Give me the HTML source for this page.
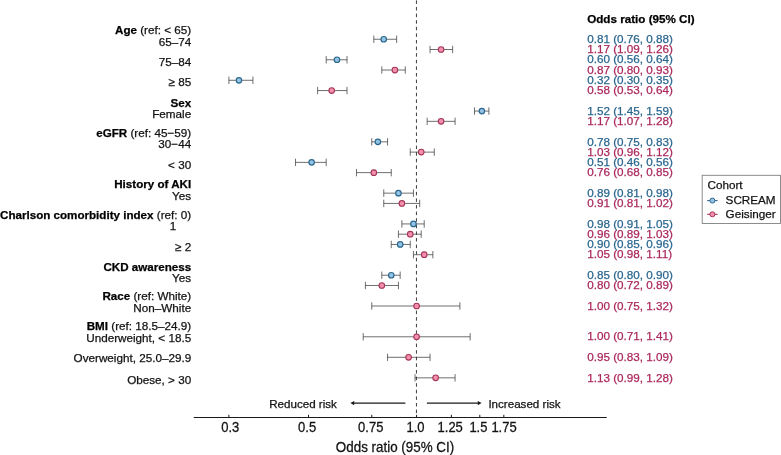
<!DOCTYPE html>
<html lang="en"><head><meta charset="utf-8"><title>Forest plot</title>
<style>html,body{margin:0;padding:0;background:#fff}svg{display:block}text{stroke-width:0.25px;paint-order:stroke}</style></head>
<body>
<svg width="781" height="455" viewBox="0 0 781 455" font-family="'Liberation Sans', Arial, Helvetica, sans-serif">
<rect width="781" height="455" fill="#fff"/>
<line x1="416.45" y1="0.4" x2="416.45" y2="417" stroke="#1a1a1a" stroke-width="0.85" stroke-dasharray="3.5 3.1"/>
<line x1="193.8" y1="417.5" x2="606.7" y2="417.5" stroke="#1a1a1a" stroke-width="1"/>
<line x1="228.90" y1="414.8" x2="228.90" y2="417.5" stroke="#1a1a1a" stroke-width="1"/>
<text transform="translate(230.20 431.9) scale(1 1.07)" font-size="13" text-anchor="middle" fill="#111" stroke="#111">0.3</text>
<line x1="308.54" y1="414.8" x2="308.54" y2="417.5" stroke="#1a1a1a" stroke-width="1"/>
<text transform="translate(307.14 431.9) scale(1 1.07)" font-size="13" text-anchor="middle" fill="#111" stroke="#111">0.5</text>
<line x1="371.75" y1="414.8" x2="371.75" y2="417.5" stroke="#1a1a1a" stroke-width="1"/>
<text transform="translate(370.75 431.9) scale(1 1.07)" font-size="13" text-anchor="middle" fill="#111" stroke="#111">0.75</text>
<line x1="416.60" y1="414.8" x2="416.60" y2="417.5" stroke="#1a1a1a" stroke-width="1"/>
<text transform="translate(415.50 431.9) scale(1 1.07)" font-size="13" text-anchor="middle" fill="#111" stroke="#111">1.0</text>
<line x1="451.39" y1="414.8" x2="451.39" y2="417.5" stroke="#1a1a1a" stroke-width="1"/>
<text transform="translate(450.19 431.9) scale(1 1.07)" font-size="13" text-anchor="middle" fill="#111" stroke="#111">1.25</text>
<line x1="479.81" y1="414.8" x2="479.81" y2="417.5" stroke="#1a1a1a" stroke-width="1"/>
<text transform="translate(478.41 431.9) scale(1 1.07)" font-size="13" text-anchor="middle" fill="#111" stroke="#111">1.5</text>
<line x1="503.84" y1="414.8" x2="503.84" y2="417.5" stroke="#1a1a1a" stroke-width="1"/>
<text transform="translate(504.04 431.9) scale(1 1.07)" font-size="13" text-anchor="middle" fill="#111" stroke="#111">1.75</text>
<text transform="translate(395 452) scale(1 1.04)" font-size="13.4" text-anchor="middle" fill="#111" stroke="#111">Odds ratio (95% CI)</text>
<line x1="405.4" y1="403.1" x2="353" y2="403.1" stroke="#1a1a1a" stroke-width="1.05"/>
<polygon points="350.4,403.1 354.2,401.0 354.2,405.20000000000005" fill="#1a1a1a"/>
<line x1="426.9" y1="403.1" x2="479" y2="403.1" stroke="#1a1a1a" stroke-width="1.05"/>
<polygon points="481.6,403.1 477.8,401.0 477.8,405.20000000000005" fill="#1a1a1a"/>
<text x="336.9" y="407.7" font-size="11.6" text-anchor="end" fill="#111" stroke="#111">Reduced risk</text>
<text x="488.4" y="407.7" font-size="11.6" fill="#111" stroke="#111">Increased risk</text>
<g stroke="#363636" stroke-width="0.72"><line x1="373.82" y1="39.25" x2="396.67" y2="39.25"/><line x1="373.82" y1="35.55" x2="373.82" y2="42.95"/><line x1="396.67" y1="35.55" x2="396.67" y2="42.95"/></g>
<circle cx="383.75" cy="39.25" r="2.75" fill="#93c4e6" stroke="#2e688e" stroke-width="1.2"/>
<text x="587.2" y="42.95" font-size="11.7" fill="#2a668f" stroke="#2a668f">0.81 (0.76, 0.88)</text>
<g stroke="#363636" stroke-width="0.72"><line x1="430.04" y1="49.51" x2="452.63" y2="49.51"/><line x1="430.04" y1="45.81" x2="430.04" y2="53.21"/><line x1="452.63" y1="45.81" x2="452.63" y2="53.21"/></g>
<circle cx="441.08" cy="49.51" r="2.8" fill="#f48fb0" stroke="#a23654" stroke-width="1.1"/>
<text x="587.2" y="53.21" font-size="11.7" fill="#aa285c" stroke="#aa285c">1.17 (1.09, 1.26)</text>
<g stroke="#363636" stroke-width="0.72"><line x1="326.21" y1="59.77" x2="347.02" y2="59.77"/><line x1="326.21" y1="56.07" x2="326.21" y2="63.47"/><line x1="347.02" y1="56.07" x2="347.02" y2="63.47"/></g>
<circle cx="336.96" cy="59.77" r="2.75" fill="#93c4e6" stroke="#2e688e" stroke-width="1.2"/>
<text x="587.2" y="63.47" font-size="11.7" fill="#2a668f" stroke="#2a668f">0.60 (0.56, 0.64)</text>
<g stroke="#363636" stroke-width="0.72"><line x1="381.81" y1="70.03" x2="405.29" y2="70.03"/><line x1="381.81" y1="66.33" x2="381.81" y2="73.73"/><line x1="405.29" y1="66.33" x2="405.29" y2="73.73"/></g>
<circle cx="394.89" cy="70.03" r="2.8" fill="#f48fb0" stroke="#a23654" stroke-width="1.1"/>
<text x="587.2" y="73.73" font-size="11.7" fill="#aa285c" stroke="#aa285c">0.87 (0.80, 0.93)</text>
<g stroke="#363636" stroke-width="0.72"><line x1="228.90" y1="80.29" x2="252.93" y2="80.29"/><line x1="228.90" y1="76.59" x2="228.90" y2="83.99"/><line x1="252.93" y1="76.59" x2="252.93" y2="83.99"/></g>
<circle cx="238.96" cy="80.29" r="2.75" fill="#93c4e6" stroke="#2e688e" stroke-width="1.2"/>
<text x="587.2" y="83.99" font-size="11.7" fill="#2a668f" stroke="#2a668f">0.32 (0.30, 0.35)</text>
<g stroke="#363636" stroke-width="0.72"><line x1="317.62" y1="90.55" x2="347.02" y2="90.55"/><line x1="317.62" y1="86.85" x2="317.62" y2="94.25"/><line x1="347.02" y1="86.85" x2="347.02" y2="94.25"/></g>
<circle cx="331.68" cy="90.55" r="2.8" fill="#f48fb0" stroke="#a23654" stroke-width="1.1"/>
<text x="587.2" y="94.25" font-size="11.7" fill="#aa285c" stroke="#aa285c">0.58 (0.53, 0.64)</text>
<g stroke="#363636" stroke-width="0.72"><line x1="474.53" y1="111.07" x2="488.90" y2="111.07"/><line x1="474.53" y1="107.37" x2="474.53" y2="114.77"/><line x1="488.90" y1="107.37" x2="488.90" y2="114.77"/></g>
<circle cx="481.88" cy="111.07" r="2.75" fill="#93c4e6" stroke="#2e688e" stroke-width="1.2"/>
<text x="587.2" y="114.77" font-size="11.7" fill="#2a668f" stroke="#2a668f">1.52 (1.45, 1.59)</text>
<g stroke="#363636" stroke-width="0.72"><line x1="427.15" y1="121.33" x2="455.09" y2="121.33"/><line x1="427.15" y1="117.63" x2="427.15" y2="125.03"/><line x1="455.09" y1="117.63" x2="455.09" y2="125.03"/></g>
<circle cx="441.08" cy="121.33" r="2.8" fill="#f48fb0" stroke="#a23654" stroke-width="1.1"/>
<text x="587.2" y="125.03" font-size="11.7" fill="#aa285c" stroke="#aa285c">1.17 (1.07, 1.28)</text>
<g stroke="#363636" stroke-width="0.72"><line x1="371.75" y1="141.85" x2="387.55" y2="141.85"/><line x1="371.75" y1="138.15" x2="371.75" y2="145.55"/><line x1="387.55" y1="138.15" x2="387.55" y2="145.55"/></g>
<circle cx="377.86" cy="141.85" r="2.75" fill="#93c4e6" stroke="#2e688e" stroke-width="1.2"/>
<text x="587.2" y="145.55" font-size="11.7" fill="#2a668f" stroke="#2a668f">0.78 (0.75, 0.83)</text>
<g stroke="#363636" stroke-width="0.72"><line x1="410.24" y1="152.11" x2="434.27" y2="152.11"/><line x1="410.24" y1="148.41" x2="410.24" y2="155.81"/><line x1="434.27" y1="148.41" x2="434.27" y2="155.81"/></g>
<circle cx="421.21" cy="152.11" r="2.8" fill="#f48fb0" stroke="#a23654" stroke-width="1.1"/>
<text x="587.2" y="155.81" font-size="11.7" fill="#aa285c" stroke="#aa285c">1.03 (0.96, 1.12)</text>
<g stroke="#363636" stroke-width="0.72"><line x1="295.54" y1="162.37" x2="326.21" y2="162.37"/><line x1="295.54" y1="158.67" x2="295.54" y2="166.07"/><line x1="326.21" y1="158.67" x2="326.21" y2="166.07"/></g>
<circle cx="311.63" cy="162.37" r="2.75" fill="#93c4e6" stroke="#2e688e" stroke-width="1.2"/>
<text x="587.2" y="166.07" font-size="11.7" fill="#2a668f" stroke="#2a668f">0.51 (0.46, 0.56)</text>
<g stroke="#363636" stroke-width="0.72"><line x1="356.48" y1="172.63" x2="391.26" y2="172.63"/><line x1="356.48" y1="168.93" x2="356.48" y2="176.33"/><line x1="391.26" y1="168.93" x2="391.26" y2="176.33"/></g>
<circle cx="373.82" cy="172.63" r="2.8" fill="#f48fb0" stroke="#a23654" stroke-width="1.1"/>
<text x="587.2" y="176.33" font-size="11.7" fill="#aa285c" stroke="#aa285c">0.76 (0.68, 0.85)</text>
<g stroke="#363636" stroke-width="0.72"><line x1="383.75" y1="193.15" x2="413.45" y2="193.15"/><line x1="383.75" y1="189.45" x2="383.75" y2="196.85"/><line x1="413.45" y1="189.45" x2="413.45" y2="196.85"/></g>
<circle cx="398.43" cy="193.15" r="2.75" fill="#93c4e6" stroke="#2e688e" stroke-width="1.2"/>
<text x="587.2" y="196.85" font-size="11.7" fill="#2a668f" stroke="#2a668f">0.89 (0.81, 0.98)</text>
<g stroke="#363636" stroke-width="0.72"><line x1="383.75" y1="203.41" x2="419.69" y2="203.41"/><line x1="383.75" y1="199.71" x2="383.75" y2="207.11"/><line x1="419.69" y1="199.71" x2="419.69" y2="207.11"/></g>
<circle cx="401.90" cy="203.41" r="2.8" fill="#f48fb0" stroke="#a23654" stroke-width="1.1"/>
<text x="587.2" y="207.11" font-size="11.7" fill="#aa285c" stroke="#aa285c">0.91 (0.81, 1.02)</text>
<g stroke="#363636" stroke-width="0.72"><line x1="401.90" y1="223.93" x2="424.21" y2="223.93"/><line x1="401.90" y1="220.23" x2="401.90" y2="227.63"/><line x1="424.21" y1="220.23" x2="424.21" y2="227.63"/></g>
<circle cx="413.45" cy="223.93" r="2.75" fill="#93c4e6" stroke="#2e688e" stroke-width="1.2"/>
<text x="587.2" y="227.63" font-size="11.7" fill="#2a668f" stroke="#2a668f">0.98 (0.91, 1.05)</text>
<g stroke="#363636" stroke-width="0.72"><line x1="398.43" y1="234.19" x2="421.21" y2="234.19"/><line x1="398.43" y1="230.49" x2="398.43" y2="237.89"/><line x1="421.21" y1="230.49" x2="421.21" y2="237.89"/></g>
<circle cx="410.24" cy="234.19" r="2.8" fill="#f48fb0" stroke="#a23654" stroke-width="1.1"/>
<text x="587.2" y="237.89" font-size="11.7" fill="#aa285c" stroke="#aa285c">0.96 (0.89, 1.03)</text>
<g stroke="#363636" stroke-width="0.72"><line x1="391.26" y1="244.45" x2="410.24" y2="244.45"/><line x1="391.26" y1="240.75" x2="391.26" y2="248.15"/><line x1="410.24" y1="240.75" x2="410.24" y2="248.15"/></g>
<circle cx="400.17" cy="244.45" r="2.75" fill="#93c4e6" stroke="#2e688e" stroke-width="1.2"/>
<text x="587.2" y="248.15" font-size="11.7" fill="#2a668f" stroke="#2a668f">0.90 (0.85, 0.96)</text>
<g stroke="#363636" stroke-width="0.72"><line x1="413.45" y1="254.71" x2="432.87" y2="254.71"/><line x1="413.45" y1="251.01" x2="413.45" y2="258.41"/><line x1="432.87" y1="251.01" x2="432.87" y2="258.41"/></g>
<circle cx="424.21" cy="254.71" r="2.8" fill="#f48fb0" stroke="#a23654" stroke-width="1.1"/>
<text x="587.2" y="258.41" font-size="11.7" fill="#aa285c" stroke="#aa285c">1.05 (0.98, 1.11)</text>
<g stroke="#363636" stroke-width="0.72"><line x1="381.81" y1="275.23" x2="400.17" y2="275.23"/><line x1="381.81" y1="271.53" x2="381.81" y2="278.93"/><line x1="400.17" y1="271.53" x2="400.17" y2="278.93"/></g>
<circle cx="391.26" cy="275.23" r="2.75" fill="#93c4e6" stroke="#2e688e" stroke-width="1.2"/>
<text x="587.2" y="278.93" font-size="11.7" fill="#2a668f" stroke="#2a668f">0.85 (0.80, 0.90)</text>
<g stroke="#363636" stroke-width="0.72"><line x1="365.39" y1="285.49" x2="398.43" y2="285.49"/><line x1="365.39" y1="281.79" x2="365.39" y2="289.19"/><line x1="398.43" y1="281.79" x2="398.43" y2="289.19"/></g>
<circle cx="381.81" cy="285.49" r="2.8" fill="#f48fb0" stroke="#a23654" stroke-width="1.1"/>
<text x="587.2" y="289.19" font-size="11.7" fill="#aa285c" stroke="#aa285c">0.80 (0.72, 0.89)</text>
<g stroke="#363636" stroke-width="0.72"><line x1="371.75" y1="306.01" x2="459.88" y2="306.01"/><line x1="371.75" y1="302.31" x2="371.75" y2="309.71"/><line x1="459.88" y1="302.31" x2="459.88" y2="309.71"/></g>
<circle cx="416.60" cy="306.01" r="2.8" fill="#f48fb0" stroke="#a23654" stroke-width="1.1"/>
<text x="587.2" y="309.71" font-size="11.7" fill="#aa285c" stroke="#aa285c">1.00 (0.75, 1.32)</text>
<g stroke="#363636" stroke-width="0.72"><line x1="363.21" y1="336.79" x2="470.17" y2="336.79"/><line x1="363.21" y1="333.09" x2="363.21" y2="340.49"/><line x1="470.17" y1="333.09" x2="470.17" y2="340.49"/></g>
<circle cx="416.60" cy="336.79" r="2.8" fill="#f48fb0" stroke="#a23654" stroke-width="1.1"/>
<text x="587.2" y="340.49" font-size="11.7" fill="#aa285c" stroke="#aa285c">1.00 (0.71, 1.41)</text>
<g stroke="#363636" stroke-width="0.72"><line x1="387.55" y1="357.31" x2="430.04" y2="357.31"/><line x1="387.55" y1="353.61" x2="387.55" y2="361.01"/><line x1="430.04" y1="353.61" x2="430.04" y2="361.01"/></g>
<circle cx="408.60" cy="357.31" r="2.8" fill="#f48fb0" stroke="#a23654" stroke-width="1.1"/>
<text x="587.2" y="361.01" font-size="11.7" fill="#aa285c" stroke="#aa285c">0.95 (0.83, 1.09)</text>
<g stroke="#363636" stroke-width="0.72"><line x1="415.03" y1="377.83" x2="455.09" y2="377.83"/><line x1="415.03" y1="374.13" x2="415.03" y2="381.53"/><line x1="455.09" y1="374.13" x2="455.09" y2="381.53"/></g>
<circle cx="435.65" cy="377.83" r="2.8" fill="#f48fb0" stroke="#a23654" stroke-width="1.1"/>
<text x="587.2" y="381.53" font-size="11.7" fill="#aa285c" stroke="#aa285c">1.13 (0.99, 1.28)</text>
<text x="587.2" y="23.0" font-size="11.65" font-weight="bold" fill="#000" stroke="#000">Odds ratio (95% CI)</text>
<text x="191.2" y="34.30" font-size="11.7" text-anchor="end" fill="#111" stroke="#111"><tspan font-weight="bold" font-size="11.62" fill="#000" stroke="#000">Age</tspan> (ref: &lt; 65)</text>
<text x="191.2" y="46.05" font-size="11.7" text-anchor="end" fill="#111" stroke="#111">65–74</text>
<text x="191.2" y="65.88" font-size="11.7" text-anchor="end" fill="#111" stroke="#111">75–84</text>
<text x="191.2" y="85.76" font-size="11.7" text-anchor="end" fill="#111" stroke="#111">≥ 85</text>
<text x="191.2" y="106.68" font-size="11.7" text-anchor="end" fill="#111" stroke="#111"><tspan font-weight="bold" font-size="11.62" fill="#000" stroke="#000">Sex</tspan></text>
<text x="191.2" y="117.68" font-size="11.7" text-anchor="end" fill="#111" stroke="#111">Female</text>
<text x="191.2" y="137.05" font-size="11.7" text-anchor="end" fill="#111" stroke="#111"><tspan font-weight="bold" font-size="11.62" fill="#000" stroke="#000">eGFR</tspan> (ref: 45−59)</text>
<text x="191.2" y="148.15" font-size="11.7" text-anchor="end" fill="#111" stroke="#111">30−44</text>
<text x="191.2" y="168.88" font-size="11.7" text-anchor="end" fill="#111" stroke="#111">&lt; 30</text>
<text x="191.2" y="187.50" font-size="11.7" text-anchor="end" fill="#111" stroke="#111"><tspan font-weight="bold" font-size="11.62" fill="#000" stroke="#000">History of AKI</tspan></text>
<text x="191.2" y="199.75" font-size="11.7" text-anchor="end" fill="#111" stroke="#111">Yes</text>
<text x="191.2" y="218.72" font-size="11.7" text-anchor="end" fill="#111" stroke="#111"><tspan font-weight="bold" font-size="11.62" fill="#000" stroke="#000">Charlson comorbidity index</tspan> (ref: 0)</text>
<text x="176.2" y="230.47" font-size="11.7" text-anchor="end" fill="#111" stroke="#111">1</text>
<text x="191.2" y="250.95" font-size="11.7" text-anchor="end" fill="#111" stroke="#111">≥ 2</text>
<text x="191.2" y="271.32" font-size="11.7" text-anchor="end" fill="#111" stroke="#111"><tspan font-weight="bold" font-size="11.62" fill="#000" stroke="#000">CKD awareness</tspan></text>
<text x="191.2" y="282.02" font-size="11.7" text-anchor="end" fill="#111" stroke="#111">Yes</text>
<text x="191.2" y="299.54" font-size="11.7" text-anchor="end" fill="#111" stroke="#111"><tspan font-weight="bold" font-size="11.62" fill="#000" stroke="#000">Race</tspan> (ref: White)</text>
<text x="191.2" y="312.14" font-size="11.7" text-anchor="end" fill="#111" stroke="#111">Non–White</text>
<text x="191.2" y="330.46" font-size="11.7" text-anchor="end" fill="#111" stroke="#111"><tspan font-weight="bold" font-size="11.62" fill="#000" stroke="#000">BMI</tspan> (ref: 18.5–24.9)</text>
<text x="191.2" y="341.86" font-size="11.7" text-anchor="end" fill="#111" stroke="#111">Underweight, &lt; 18.5</text>
<text x="191.2" y="361.94" font-size="11.7" text-anchor="end" fill="#111" stroke="#111">Overweight, 25.0–29.9</text>
<text x="191.2" y="383.67" font-size="11.7" text-anchor="end" fill="#111" stroke="#111">Obese, &gt; 30</text>
<rect x="702.2" y="175.3" width="78.3" height="48.2" fill="#fff" stroke="#808080" stroke-width="0.9"/>
<text x="707.5" y="189.2" font-size="11.7" fill="#111" stroke="#111">Cohort</text>
<line x1="707.2" y1="200.6" x2="717.6" y2="200.6" stroke="#2e688e" stroke-width="1.1"/>
<circle cx="712.4" cy="200.6" r="2.5" fill="#93c4e6" stroke="#2e688e" stroke-width="1"/>
<text x="725.6" y="204.00" font-size="11.7" fill="#111" stroke="#111">SCREAM</text>
<line x1="707.2" y1="214.3" x2="717.6" y2="214.3" stroke="#a23654" stroke-width="1.1"/>
<circle cx="712.4" cy="214.3" r="2.5" fill="#f48fb0" stroke="#a23654" stroke-width="1"/>
<text x="725.6" y="217.70" font-size="11.7" fill="#111" stroke="#111">Geisinger</text>
</svg>
</body></html>
